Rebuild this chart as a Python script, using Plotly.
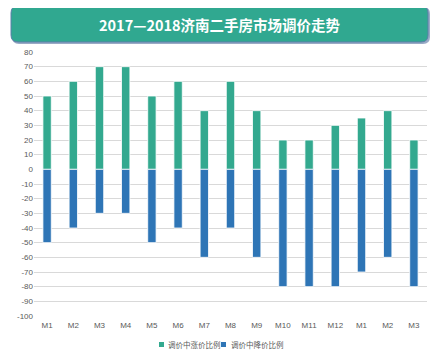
import plotly.graph_objects as go

months = ["M1", "M2", "M3", "M4", "M5", "M6", "M7", "M8", "M9", "M10", "M11", "M12", "M1", "M2", "M3"]
rise_share = [50, 60, 70, 70, 50, 60, 40, 60, 40, 20, 20, 30, 35, 40, 20]
fall_share = [-50, -40, -30, -30, -50, -40, -60, -40, -60, -80, -80, -80, -70, -60, -80]
series_names = ["调价中涨价比例", "调价中降价比例"]
y_ticks = list(range(-100, 81, 10))

x_idx = list(range(len(months)))

GREEN = "#33A98F"
BLUE = "#2E75B6"

# The page body has an 8px default margin, so the figure is drawn 8px in.
OFF = 8
W, H = 440 - OFF, 355 - OFF
# reference-frame plot area: x 34..427, y 52..316
ml, mr, mt, mb = 34 - OFF, 440 - 427, 52 - OFF, 355 - 316
pw, ph = W - ml - mr, H - mt - mb

fig = go.Figure()
fig.add_trace(go.Bar(x=x_idx, y=rise_share, name=series_names[0], width=0.32,
                     marker=dict(color=GREEN, line=dict(color="white", width=0.8))))
fig.add_trace(go.Bar(x=x_idx, y=fall_share, name=series_names[1], width=0.32,
                     marker=dict(color=BLUE, line=dict(color="white", width=0.8))))


def px2paper(px, py):
    # px, py in reference-window pixels
    return (px - OFF - ml) / pw, (H - mb - (py - OFF)) / ph


def rounded_path(x0, y0, x1, y1, r):
    def P(x, y):
        a, b = px2paper(x, y)
        return f"{a:.5f},{b:.5f}"
    return (f"M {P(x0 + r, y0)} L {P(x1 - r, y0)} Q {P(x1, y0)} {P(x1, y0 + r)} "
            f"L {P(x1, y1 - r)} Q {P(x1, y1)} {P(x1 - r, y1)} "
            f"L {P(x0 + r, y1)} Q {P(x0, y1)} {P(x0, y1 - r)} "
            f"L {P(x0, y0 + r)} Q {P(x0, y0)} {P(x0 + r, y0)} Z")


def rect(x0, y0, x1, y1, color):
    a0, b0 = px2paper(x0, y0)
    a1, b1 = px2paper(x1, y1)
    return dict(type="rect", xref="paper", yref="paper", x0=a0, x1=a1, y0=b0, y1=b1,
                fillcolor=color, line=dict(width=0))


shapes = [
    dict(type="path", xref="paper", yref="paper", path=rounded_path(12, 7, 430, 44, 7),
         fillcolor="rgba(70,100,150,0.55)", line=dict(width=0), layer="above"),
    dict(type="path", xref="paper", yref="paper", path=rounded_path(11, 6, 428, 42, 7),
         fillcolor="#30A890", line=dict(color="#5A7FA8", width=1), layer="above"),
    rect(159, 342, 164, 347, GREEN),
    rect(221, 342, 226, 347, BLUE),
]

tx, ty = px2paper(220, 24)
fig.add_annotation(x=tx, y=ty, xref="paper", yref="paper", text="<b>2017—2018济南二手房市场调价走势</b>",
                   showarrow=False, font=dict(family="Noto Sans CJK SC", size=14.5, color="white"),
                   xanchor="center", yanchor="middle")

for name, px in zip(series_names, [166, 229]):
    ax, ay = px2paper(px, 344.5)
    fig.add_annotation(x=ax, y=ay, xref="paper", yref="paper", text=name, showarrow=False,
                       font=dict(family="Noto Sans CJK SC", size=7.5, color="#595959"),
                       xanchor="left", yanchor="middle")

fig.update_layout(
    width=W, height=H,
    margin=dict(l=ml, r=mr, t=mt, b=mb, autoexpand=False),
    paper_bgcolor="white", plot_bgcolor="white",
    barmode="relative",
    showlegend=False,
    shapes=shapes,
    font=dict(family="Liberation Sans, Arial", size=8, color="#595959"),
)
fig.update_xaxes(tickmode="array", tickvals=x_idx, ticktext=months, range=[-0.5, len(months) - 0.5],
                 showgrid=False, zeroline=False, showline=False, ticks="", automargin=False,
                 ticklabelstandoff=3, tickfont=dict(size=8, color="#595959"))
fig.update_yaxes(range=[-100, 80], tickmode="array", tickvals=y_ticks, ticktext=[str(v) for v in y_ticks],
                 showgrid=True, gridcolor="#D9D9D9", gridwidth=1, zeroline=True, zerolinecolor="white",
                 zerolinewidth=1, showline=False, ticks="", automargin=False,
                 tickfont=dict(size=8, color="#595959"))

fig.write_html("out.html")
